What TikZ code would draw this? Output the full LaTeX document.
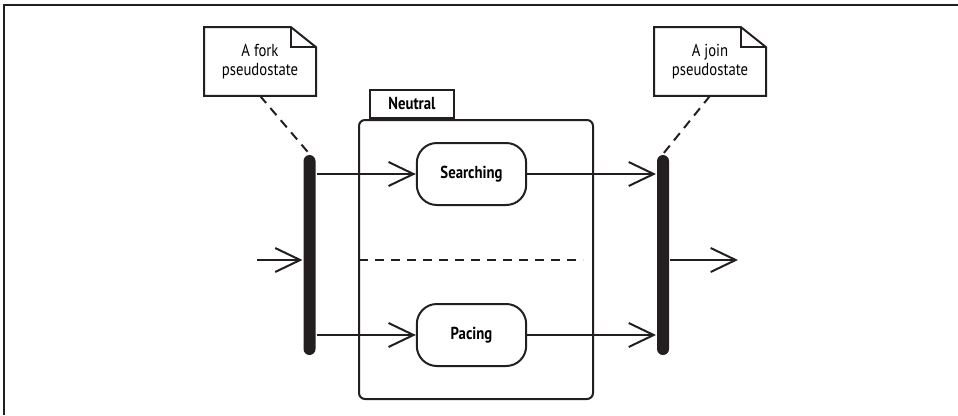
\documentclass[tikz,border=0pt]{standalone}
\usepackage{fontspec}
\setmainfont{PT Sans}[FakeStretch=0.85]
\usetikzlibrary{positioning,arrows.meta,calc}
\definecolor{ink}{HTML}{231F20}

\begin{document}
\begin{tikzpicture}[x=0.75pt, y=-0.75pt, line width=1.5pt, draw=ink,
  note/.style={minimum width=82.5pt, minimum height=50pt, align=center,
               font=\fontsize{13}{14.5}\selectfont, inner sep=0pt},
  state/.style={draw=ink, rounded corners=15pt, minimum width=82pt,
                minimum height=46.5pt, font=\fontsize{13}{15}\bfseries},
  bar/.style={fill=ink, rounded corners=4.5pt, minimum width=9pt,
              minimum height=150pt, inner sep=0pt},
  arr/.style={-{Straight Barb[length=18.75pt, width=18pt, line width=1.5pt]}},
  sep/.style={dash pattern=on 7pt off 5pt}]
\useasboundingbox (0,0) rectangle (958,415);
% frame
\draw (4,415) -- (4,5) -- (958,5);
% notes
\node[note] (forknote) at (260,61.5) {A fork\\pseudostate};
\node[note] (joinnote) at (710,61.5) {A join\\pseudostate};
\foreach \n in {forknote, joinnote} {
  \draw (\n.south west) -- (\n.north west) -- ([xshift=-18.75pt]\n.north east)
    -- ([yshift=-15pt]\n.north east) -- (\n.south east) -- cycle;
  \draw ([xshift=-18.75pt]\n.north east) |- ([yshift=-15pt]\n.north east);
}
% composite state
\node[draw=ink, rounded corners=4.5pt, minimum width=175.5pt,
      minimum height=209.25pt] (neutral) at (476,259.5) {};
\node[draw=ink, anchor=south west, minimum width=63pt, minimum height=21pt,
      inner sep=0pt, font=\fontsize{13}{15}\bfseries]
  (tab) at ([xshift=8.25pt]neutral.north west) {Neutral};
\node[state] (searching) at (471.5,174) {Searching};
\node[state] (pacing) at (471.5,335) {Pacing};
\coordinate (sepl) at (359,260);
\coordinate (sepr) at (583,260);
\draw[sep] (sepl) -- (sepr);
% fork and join
\node[bar] (fork) at (309.5,255) {};
\node[bar] (join) at (663,255) {};
\draw[sep] (forknote.south) -- (fork.north);
\draw[sep] (joinnote.south) -- (join.north);
% transitions
\coordinate (in) at (257,260);
\coordinate (out) at (738,260);
\draw[arr] (in) -- (in -| fork.west);
\draw[arr] (fork.east |- searching.west) -- (searching.west);
\draw[arr] (fork.east |- pacing.west) -- (pacing.west);
\draw[arr] (searching.east) -- (searching.east -| join.west);
\draw[arr] (pacing.east) -- (pacing.east -| join.west);
\draw[arr] (join.east |- out) -- (out);
\end{tikzpicture}
\end{document}
